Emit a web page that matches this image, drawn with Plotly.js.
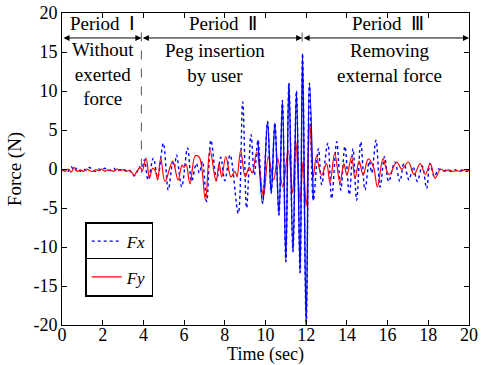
<!DOCTYPE html>
<html>
<head>
<meta charset="utf-8">
<script src="https://cdn.plot.ly/plotly-3.0.1.min.js"></script>
</head>
<body style="margin:0">
<div id="chart"></div>
<script>
// Fx (blue dotted) – time (sec) and force (N)
const fxTime = [0,0.15,0.3,0.45,0.6,0.75,0.9,1.05,1.2,1.35,1.5,1.65,1.8,1.95,2.1,2.25,2.4,2.55,2.7,2.85,3.0,3.15,3.3,3.45,3.55,3.7,3.8,3.9,4.05,
  4.23,4.49,4.7,4.98,5.22,5.44,5.52,5.63,5.88,6.17,6.37,6.6,6.75,6.9,7.11,7.32,7.6,7.8,8.0,8.26,8.66,8.88,9.07,9.29,9.45,9.63,9.86,
  10.1,10.28,10.46,10.66,10.83,11.0,11.15,11.35,11.52,11.7,11.82,12.0,12.16,12.35,12.6,12.76,13.06,13.25,13.5,13.7,13.9,14.12,14.3,14.48,
  14.68,14.89,15.1,15.22,15.43,15.63,15.85,16.05,16.36,16.6,16.8,17.05,17.25,17.46,17.7,17.92,18.08,18.3,18.5,18.7,18.9,19.1,19.3,19.5,19.7,19.85,20];
const fxValue = [-0.2,-0.1,-0.3,0.3,-0.2,0.1,-0.3,0.0,-0.2,0.2,-0.1,-0.3,0.0,-0.2,0.1,-0.2,-0.1,0.1,-0.3,-0.1,0.0,-0.2,-0.1,-0.6,-0.9,-0.3,0.3,-0.4,1.2,
  -1.4,1.4,-1.1,3.3,-2.7,0.8,0.2,1.8,-2.3,2.7,-1.6,0.7,-0.5,1.0,-4.2,3.7,-1.4,1.5,-1.5,1.8,-5.7,8.6,-5.0,4.4,-0.8,3.7,-4.4,
  6.1,-3.1,5.9,-5.9,8.8,-11.9,11.0,-10.6,10.0,-13.3,14.8,-20.0,11.0,-4.0,2.6,-2.0,3.3,-3.8,3.5,-2.7,2.9,-3.3,2.6,-4.0,
  3.5,-2.7,1.0,-0.5,3.7,-2.3,1.6,-1.6,0.9,-1.6,0.7,-1.4,0.3,-1.6,0.4,-2.5,0.7,-1.0,0.0,-0.3,-0.1,-0.3,-0.1,-0.3,-0.1,-0.3,-0.2];

// Fy (red solid)
const fyTime = [0,0.15,0.3,0.45,0.6,0.75,0.9,1.05,1.2,1.35,1.5,1.65,1.8,1.95,2.1,2.25,2.4,2.55,2.7,2.85,3.0,3.15,3.3,3.45,3.55,3.7,3.85,3.95,4.13,
  4.3,4.45,4.58,4.7,4.85,5.06,5.44,5.7,5.9,6.0,6.1,6.29,6.55,6.75,7.05,7.27,7.57,7.72,7.85,8.05,8.3,8.5,8.6,8.78,9.0,9.2,9.35,9.57,9.9,
  10.14,10.4,10.6,10.85,11.12,11.33,11.48,11.7,11.85,12.0,12.18,12.35,12.5,12.75,13.0,13.17,13.4,13.66,13.85,14.0,14.23,14.4,14.6,14.8,
  15.05,15.3,15.5,15.77,16.0,16.1,16.45,16.7,17.02,17.3,17.6,17.85,18.1,18.33,18.6,18.8,19.0,19.2,19.4,19.6,19.8,20];
const fyValue = [-0.1,-0.3,0.0,-0.4,0.2,-0.3,-0.1,-0.3,0.0,-0.2,-0.3,-0.1,-0.2,0.0,-0.3,-0.1,-0.2,-0.3,0.0,-0.2,-0.1,-0.3,-0.2,-0.5,-0.8,-0.2,0.2,-0.2,1.4,
  -1.2,0.1,-0.2,-1.4,1.4,-1.6,1.0,-1.4,0.5,0.2,0.6,-1.9,1.7,1.5,-4.0,2.5,-1.6,0.7,-1.0,1.6,-1.0,-0.3,-1.0,2.4,-1.0,0.2,-0.5,2.2,-3.5,
  1.6,-1.4,1.4,-2.3,2.4,-3.1,3.7,-4.0,1.0,-4.8,5.8,-1.0,1.6,-0.8,0.7,-1.8,2.0,-1.8,0.7,-0.8,1.6,-1.2,1.0,-0.8,
  1.3,0.3,-2.3,1.3,-0.5,-0.7,0.9,0.0,0.9,-0.7,0.7,-0.7,0.7,-1.2,0.0,-0.3,-0.1,-0.3,-0.2,-0.3,-0.1,-0.2];

const xTicks = [0,2,4,6,8,10,12,14,16,18,20];
const yTicks = [-20,-15,-10,-5,0,5,10,15,20];
const periodNames = ['Period\u00a0\u00a0Ⅰ','Period\u00a0\u00a0Ⅱ','Period\u00a0\u00a0Ⅲ'];
const periodBounds = [0,3.9,11.8,20];
const periodNotes = ['Without<br>exerted<br>force','Peg insertion<br>by user','Removing<br>external force'];
const seriesNames = ['Fx','Fy'];

const serif = 'Liberation Serif';

// solid-looking stretch of Fx during the strongest oscillation
const solidIdx = fxTime.map((t,i)=>i).filter(i => fxTime[i] >= 9.6 && fxTime[i] <= 12.36);

const traces = [
  {x: fxTime, y: fxValue, type:'scatter', mode:'lines', name:'<i>'+seriesNames[0]+'</i>',
   line:{color:'#0000ff', width:1.4, dash:'dot', shape:'spline', smoothing:1}, legend:'legend'},
  {x: fyTime, y: fyValue, type:'scatter', mode:'lines', name:'<i>'+seriesNames[1]+'</i>',
   line:{color:'#ff0000', width:1.2, shape:'spline', smoothing:1}, legend:'legend2'},
  {x: solidIdx.map(i=>fxTime[i]), y: solidIdx.map(i=>fxValue[i]), type:'scatter', mode:'lines',
   showlegend:false, hoverinfo:'skip',
   line:{color:'#0000ff', width:1.3, shape:'spline', smoothing:1}}
];

const arrowY = 16.8;
const annotations = [];
for (let k=0;k<3;k++){
  const a = periodBounds[k], b = periodBounds[k+1];
  annotations.push({x:b, y:arrowY, ax:a, ay:arrowY, xref:'x', yref:'y', axref:'x', ayref:'y',
    text:'', showarrow:true, arrowside:'end+start', arrowhead:2, arrowsize:1.2, arrowwidth:1, arrowcolor:'#000', standoff:0, startstandoff:0});
}
const labelX = [2.0, 7.9, 16.0];
const noteX = [2.0, 7.5, 16.1];
const noteY = [12.2, 13.6, 13.6];
for (let k=0;k<3;k++){
  annotations.push({x:labelX[k], y:18.7, xref:'x', yref:'y', text:periodNames[k], showarrow:false,
    font:{family:serif, size:19, color:'#000'}, xanchor:'center', yanchor:'middle'});
  annotations.push({x:noteX[k], y:noteY[k], xref:'x', yref:'y', text:periodNotes[k], showarrow:false,
    font:{family:serif, size:19, color:'#000'}, xanchor:'center', yanchor:'middle'});
}

const shapes = [
  {type:'line', xref:'x', yref:'y', x0:3.9, x1:3.9, y0:17.5, y1:0.3, line:{color:'#555', width:1, dash:'dash'}},
  {type:'line', xref:'x', yref:'y', x0:11.8, x1:11.8, y0:17.5, y1:16.0, line:{color:'#555', width:1, dash:'dash'}}
];

const axisCommon = {showline:true, linecolor:'#000', linewidth:1, mirror:'ticks', ticks:'inside', ticklen:5,
  tickcolor:'#000', showgrid:false, zeroline:false, tickfont:{family:serif, size:18, color:'#000'}};

const legendCommon = {xref:'paper', yref:'paper', xanchor:'left', yanchor:'top', bgcolor:'#fff',
  bordercolor:'#000', borderwidth:1.5, font:{family:serif, size:17, color:'#000'},
  itemwidth:30, tracegroupgap:0};

const layout = {
  width:486, height:365,
  margin:{l:62, r:17, t:13, b:40},
  font:{family:serif, color:'#000'},
  paper_bgcolor:'#fff', plot_bgcolor:'#fff',
  xaxis: Object.assign({}, axisCommon, {range:[0,20], tickvals:xTicks, ticktext:xTicks.map(String),
    ticklabelstandoff:-7,
    title:{text:'Time (sec)', font:{family:serif, size:18, color:'#000'}, standoff:0}}),
  yaxis: Object.assign({}, axisCommon, {range:[-20,20], tickvals:yTicks, ticktext:yTicks.map(String),
    title:{text:'Force (N)', font:{family:serif, size:19, color:'#000'}, standoff:6}}),
  showlegend:true,
  legend: Object.assign({}, legendCommon, {x:0.057, y:0.33}),
  legend2: Object.assign({}, legendCommon, {x:0.057, y:0.215}),
  annotations: annotations,
  shapes: shapes
};

Plotly.newPlot('chart', traces, layout, {displayModeBar:false});
</script>
</body>
</html>
